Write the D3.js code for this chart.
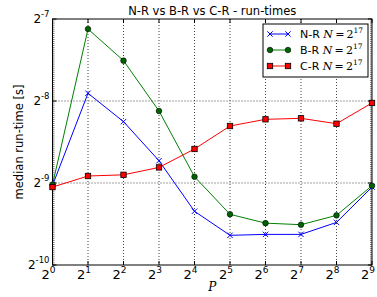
<!DOCTYPE html>
<html>
<head>
<meta charset="utf-8">
<script src="https://cdn.jsdelivr.net/npm/d3@7"></script>
<style>
  body { margin: 0; background: #fff; }
  text { font-family: "DejaVu Sans", sans-serif; fill: #000; }
</style>
</head>
<body>
<div id="chart"></div>
<script>
// data: P values and median run-times in seconds
const pValues = [1, 2, 4, 8, 16, 32, 64, 128, 256, 512];
const nrTimes = [0.001913, 0.004170, 0.003280, 0.002358, 0.001538, 0.001255, 0.001265, 0.001265, 0.001400, 0.001887];
const brTimes = [0.001926, 0.007179, 0.005494, 0.003589, 0.002060, 0.001499, 0.001391, 0.001373, 0.001486, 0.001909];
const crTimes = [0.001887, 0.002072, 0.002093, 0.002228, 0.002604, 0.003162, 0.003346, 0.003374, 0.003224, 0.003842];
const xTickExps = [0, 1, 2, 3, 4, 5, 6, 7, 8, 9];
const yTickExps = [-10, -9, -8, -7];
const seriesNames = ["N-R", "B-R", "C-R"];

const W = 377, H = 297;
const margin = { top: 19, right: 5, bottom: 32, left: 52.5 };
const width = W - margin.left - margin.right;
const height = H - margin.top - margin.bottom;

const svg = d3.select("#chart").append("svg")
    .attr("width", W)
    .attr("height", H);

const g = svg.append("g")
    .attr("transform", `translate(${margin.left},${margin.top})`);

const x = d3.scaleLog().base(2).domain([1, 512]).range([0, width]);
const y = d3.scaleLog().base(2).domain([Math.pow(2, -10), Math.pow(2, -7)]).range([height, 0]);

// grid
g.selectAll(".vgrid")
    .data(xTickExps.slice(1, -1))
    .enter().append("line")
    .attr("x1", d => x(Math.pow(2, d))).attr("x2", d => x(Math.pow(2, d)))
    .attr("y1", 0).attr("y2", height)
    .attr("stroke", "#444").attr("stroke-width", 1)
    .attr("stroke-dasharray", "1,2");

g.selectAll(".hgrid")
    .data(yTickExps.slice(1, -1))
    .enter().append("line")
    .attr("y1", d => y(Math.pow(2, d))).attr("y2", d => y(Math.pow(2, d)))
    .attr("x1", 0).attr("x2", width)
    .attr("stroke", "#444").attr("stroke-width", 1)
    .attr("stroke-dasharray", "1,2");

// minor ticks on left/right spines
const minor = d3.range(-10, -7, 1 / 40).map(e => Math.pow(2, e));
g.selectAll(".minorL")
    .data(minor)
    .enter().append("line")
    .attr("x1", 0).attr("x2", 2)
    .attr("y1", d => y(d)).attr("y2", d => y(d))
    .attr("stroke", "#555").attr("stroke-width", 0.8);
g.selectAll(".minorR")
    .data(minor)
    .enter().append("line")
    .attr("x1", width - 2).attr("x2", width)
    .attr("y1", d => y(d)).attr("y2", d => y(d))
    .attr("stroke", "#555").attr("stroke-width", 0.8);

// major ticks
xTickExps.forEach(e => {
    const px = x(Math.pow(2, e));
    g.append("line").attr("x1", px).attr("x2", px).attr("y1", height).attr("y2", height - 4).attr("stroke", "#000");
    g.append("line").attr("x1", px).attr("x2", px).attr("y1", 0).attr("y2", 4).attr("stroke", "#000");
    const t = g.append("text")
        .attr("x", px - 4)
        .attr("y", height + 14)
        .attr("text-anchor", "middle")
        .style("font-size", "13px");
    t.append("tspan").text("2");
    t.append("tspan").attr("dy", -6).style("font-size", "9px").text(e);
});

yTickExps.forEach(e => {
    const py = y(Math.pow(2, e));
    g.append("line").attr("x1", 0).attr("x2", 4).attr("y1", py).attr("y2", py).attr("stroke", "#000");
    g.append("line").attr("x1", width - 4).attr("x2", width).attr("y1", py).attr("y2", py).attr("stroke", "#000");
    const t = g.append("text")
        .attr("x", -3)
        .attr("y", py + 4)
        .attr("text-anchor", "end")
        .style("font-size", "12px");
    t.append("tspan").text("2");
    t.append("tspan").attr("dy", -6).style("font-size", "8.5px").text(e);
});

// frame
g.append("rect")
    .attr("width", width).attr("height", height)
    .attr("fill", "none").attr("stroke", "#000").attr("stroke-width", 1);

// series
const series = [
    { name: seriesNames[0], values: nrTimes, color: "#0000ff", marker: "x" },
    { name: seriesNames[1], values: brTimes, color: "#008000", marker: "o" },
    { name: seriesNames[2], values: crTimes, color: "#ff0000", marker: "s" }
];

const line = d3.line()
    .x(d => x(d.p))
    .y(d => y(d.t));

function drawMarker(sel, s, cx, cy) {
    if (s.marker === "x") {
        sel.append("path")
            .attr("d", `M${cx - 2.7},${cy - 2.7}L${cx + 2.7},${cy + 2.7}M${cx - 2.7},${cy + 2.7}L${cx + 2.7},${cy - 2.7}`)
            .attr("stroke", s.color).attr("stroke-width", 1);
    } else if (s.marker === "o") {
        sel.append("circle")
            .attr("cx", cx).attr("cy", cy).attr("r", 2.8)
            .attr("fill", "#006400").attr("stroke", "#000").attr("stroke-width", 0.6);
    } else {
        sel.append("rect")
            .attr("x", cx - 2.7).attr("y", cy - 2.7).attr("width", 5.4).attr("height", 5.4)
            .attr("fill", s.color).attr("stroke", "#000").attr("stroke-width", 0.8);
    }
}

series.forEach(s => {
    const pts = pValues.map((p, i) => ({ p: p, t: s.values[i] }));
    g.append("path")
        .attr("d", line(pts))
        .attr("fill", "none")
        .attr("stroke", s.color)
        .attr("stroke-width", 1);
    const mg = g.append("g");
    pts.forEach(d => drawMarker(mg, s, x(d.p), y(d.t)));
});

// legend
const lg = svg.append("g").attr("transform", "translate(263,24)");
lg.append("rect")
    .attr("width", 105).attr("height", 53)
    .attr("fill", "#fff").attr("stroke", "#000").attr("stroke-width", 1);
series.forEach((s, i) => {
    const ly = 10 + i * 16;
    lg.append("line")
        .attr("x1", 7).attr("x2", 25).attr("y1", ly).attr("y2", ly)
        .attr("stroke", s.color).attr("stroke-width", 1);
    drawMarker(lg, s, 7, ly);
    drawMarker(lg, s, 25, ly);
    const t = lg.append("text")
        .attr("x", 37).attr("y", ly + 4)
        .style("font-size", "11px");
    t.append("tspan").text(s.name + " ");
    t.append("tspan").style("font-family", "'DejaVu Serif', serif").style("font-style", "italic").text("N");
    t.append("tspan").style("font-family", "'DejaVu Serif', serif").text("\u2009=\u20092");
    t.append("tspan").attr("dy", -5).style("font-family", "'DejaVu Serif', serif").style("font-size", "7.5px").text("17");
});

// title and axis labels
svg.append("text")
    .attr("x", margin.left + width / 2)
    .attr("y", 15)
    .attr("text-anchor", "middle")
    .style("font-size", "11.5px")
    .text("N-R vs B-R vs C-R - run-times");

svg.append("text")
    .attr("transform", `translate(23,${margin.top + height / 2}) rotate(-90)`)
    .attr("text-anchor", "middle")
    .style("font-size", "11.5px")
    .text("median run-time [s]");

svg.append("text")
    .attr("x", margin.left + width / 2)
    .attr("y", 291)
    .attr("text-anchor", "middle")
    .style("font-family", "'DejaVu Serif', serif")
    .style("font-style", "italic")
    .style("font-size", "12px")
    .text("P");
</script>
</body>
</html>
